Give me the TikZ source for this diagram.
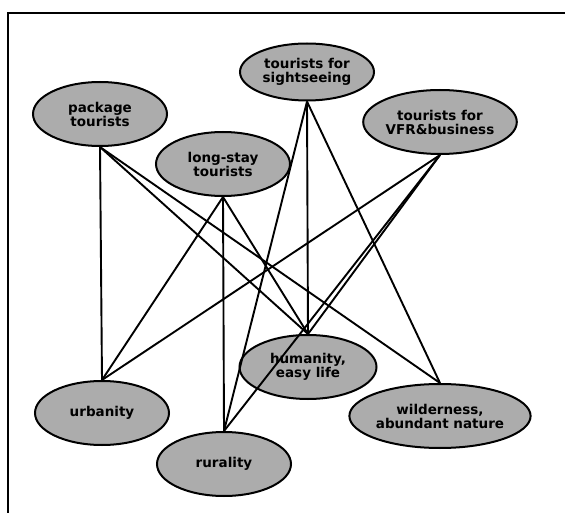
\documentclass[tikz,border=0pt]{standalone}
\usepackage{fontspec}
\setsansfont{DejaVu Sans}
\usepackage{tikz}
\usetikzlibrary{
  positioning,
  shapes.geometric
}

\tikzset{
  motive/.style={ellipse, draw=black, line width=2pt, fill=gray!65,
    minimum width=134pt, minimum height=64pt, inner sep=0pt, align=center,
    font=\sffamily\bfseries\fontsize{13.5}{14}\selectfont},
  link/.style={line width=1.9pt}
}

\begin{document}
\begin{tikzpicture}[x=1pt,y=-1pt]
        \useasboundingbox (0,0) rectangle (565,513);
        % frame
        \draw[line width=1.6pt] (8,520) -- (8,13) -- (570,13);

        % tourist types
        \node[motive] (package) at (100,114) {package\\tourists};
        \node[motive] (longstay) at (223,164) {long-stay\\tourists};
        \node[motive, minimum height=57pt] (sightseeing) at (307,72) {tourists for\\sightseeing};
        \node[motive] (vfr) at (440,122) {tourists for\\VFR\&business};

        % attractions
        \node[motive] (urbanity) at (102,413) {urbanity};
        \node[motive] (rurality) at (224,464) {rurality};
        \node[motive, minimum width=137pt] (humanity) at (308,367) {humanity,\\easy life};
        \node[motive, minimum width=136pt] (wilderness) at (440,416) {wilderness,\\abundant nature};

        \draw[link] (package.south) -- (urbanity.north);
        \draw[link] (package.south) -- (humanity.north);
        \draw[link] (package.south) -- (wilderness.north);
        \draw[link] (longstay.south) -- (urbanity.north);
        \draw[link] (longstay.south) -- (rurality.north);
        \draw[link] (longstay.south) -- (humanity.north);
        \draw[link] (sightseeing.south) -- (rurality.north);
        \draw[link] (sightseeing.south) -- (humanity.north);
        \draw[link] (sightseeing.south) -- (wilderness.north);
        \draw[link] (vfr.south) -- (urbanity.north);
        \draw[link] (vfr.south) -- (humanity.north);
        \draw[link] (vfr.south) -- (rurality.north);
    \end{tikzpicture}
\end{document}
